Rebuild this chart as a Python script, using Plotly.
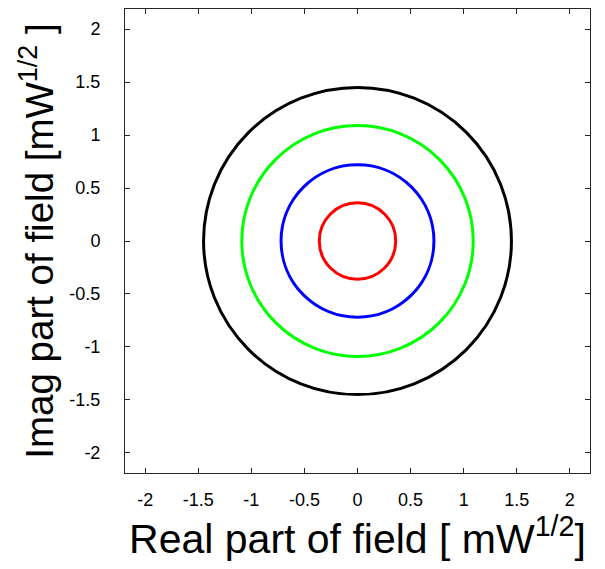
import plotly.graph_objects as go

radii = [1.45, 1.09, 0.72, 0.36]
colors = ["#000000", "#00ff00", "#0000ff", "#ff0000"]
tick_vals = [-2, -1.5, -1, -0.5, 0, 0.5, 1, 1.5, 2]
tick_text = ["-2", "-1.5", "-1", "-0.5", "0", "0.5", "1", "1.5", "2"]

fig = go.Figure()
fig.add_trace(go.Scatter(x=[0], y=[0], mode="markers", marker=dict(opacity=0), showlegend=False, hoverinfo="skip"))

for r, c in zip(radii, colors):
    fig.add_shape(type="circle", xref="x", yref="y", x0=-r, y0=-r, x1=r, y1=r,
                  line=dict(color=c, width=3))

FONT = "Liberation Sans, Arial"
axis_common = dict(
    range=[-2.19, 2.19], tickvals=tick_vals, ticktext=tick_text,
    ticks="inside", ticklen=5, tickcolor="#262626", tickwidth=1,
    showline=True, linecolor="#262626", linewidth=1, mirror="ticks",
    showgrid=False, zeroline=False, automargin=False,
    tickfont=dict(family=FONT, size=18, color="#000"),
)

fig.update_layout(
    width=597, height=561,
    margin=dict(l=117, r=15, t=1, b=96),
    plot_bgcolor="white", paper_bgcolor="white",
    showlegend=False,
    xaxis=dict(**axis_common, ticklabelstandoff=10,
               title=dict(text="Real part of field [ mW<sup>1/2</sup>]",
                          font=dict(family=FONT, size=41, color="#000"),
                          standoff=6)),
    yaxis=dict(**axis_common, ticklabelstandoff=20,
               title=dict(text="Imag part of field [mW<sup>1/2</sup> ]",
                          font=dict(family=FONT, size=38.5, color="#000"),
                          standoff=3)),
)

fig.write_html("out.html")
